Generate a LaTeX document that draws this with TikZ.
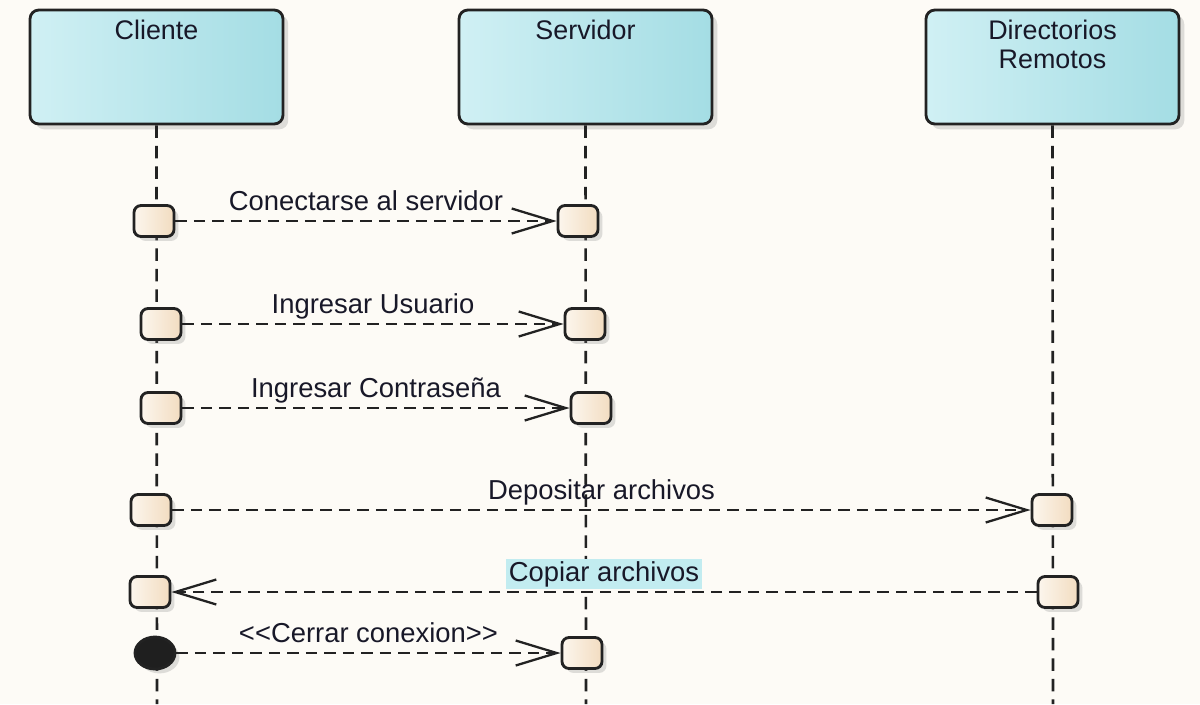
\documentclass[tikz,border=0pt]{standalone}
\usepackage{fontspec}
\setmainfont{Liberation Sans}
\usetikzlibrary{arrows.meta,shadows,shapes.geometric,positioning}
\definecolor{bgcream}{RGB}{253,251,246}
\definecolor{headleft}{RGB}{208,240,244}
\definecolor{headright}{RGB}{164,221,228}
\definecolor{actleft}{RGB}{252,246,237}
\definecolor{actright}{RGB}{242,220,192}
\definecolor{ink}{RGB}{34,34,34}
\definecolor{txt}{RGB}{24,24,40}
\definecolor{hilite}{RGB}{194,236,240}
\begin{document}
\begin{tikzpicture}[x=0.02cm, y=-0.02cm,
  font=\fontsize{15.3}{16.5}\selectfont, text=txt,
  head/.style={draw=ink, line width=1.6pt, rounded corners=5pt,
    left color=headleft, right color=headright,
    minimum width=5.06cm, minimum height=2.28cm,
    drop shadow={shadow xshift=3pt, shadow yshift=-3pt, opacity=.25}},
  title/.style={inner sep=0pt, align=center},
  act/.style={draw=ink, line width=1.6pt, rounded corners=4pt,
    left color=actleft, right color=actright, inner sep=0pt,
    minimum width=0.8cm, minimum height=0.62cm,
    drop shadow={shadow xshift=2.5pt, shadow yshift=-2.5pt, opacity=.25}},
  stop/.style={ellipse, draw=ink, line width=1.6pt, fill=black!88, inner sep=0pt,
    minimum width=0.8cm, minimum height=0.64cm,
    drop shadow={shadow xshift=2.5pt, shadow yshift=-2.5pt, opacity=.25}},
  lifeline/.style={draw=ink, line width=1.5pt, dash pattern=on 0.25cm off 0.16cm},
  msg/.style={draw=ink, line width=1.3pt, dash pattern=on 0.23cm off 0.14cm,
    -{Straight Barb[length=0.82cm, width=0.5cm]}},
  lbl/.style={anchor=base, yshift=0.22cm, inner sep=1.5pt,
    font=\fontsize{15.6}{17}\selectfont}]

  % background and page size
  \fill[bgcream] (0,0) rectangle (1200,704);
  \useasboundingbox (0,0) rectangle (1200,704);

  % lifeline heads
  \node[head] (cli) at (156.5,67) {};
  \node[head] (srv) at (585.5,67) {};
  \node[head] (dir) at (1052.5,67) {};
  \node[title, below=0.22cm of cli.north] {Cliente};
  \node[title, below=0.22cm of srv.north] {Servidor};
  \node[title, below=0.22cm of dir.north] {Directorios\\Remotos};

  % lifelines
  \coordinate (cliEnd) at (157,704);
  \coordinate (srvEnd) at (586,704);
  \coordinate (dirEnd) at (1053,704);
  \draw[lifeline] (cli.south) -- (cliEnd);
  \draw[lifeline] (srv.south) -- (srvEnd);
  \draw[lifeline] (dir.south) -- (dirEnd);

  % activations
  \node[act] (c1) at (154,221) {};
  \node[act] (s1) at (578,221) {};
  \node[act] (c2) at (161,324) {};
  \node[act] (s2) at (585,324) {};
  \node[act] (c3) at (161,408) {};
  \node[act] (s3) at (591,408) {};
  \node[act] (c4) at (151,510) {};
  \node[act] (d4) at (1052,510) {};
  \node[act] (c5) at (150,592) {};
  \node[act] (d5) at (1058,592) {};
  \node[stop] (c6) at (155,653) {};
  \node[act] (s6) at (582,653) {};

  % messages
  \draw[msg] (c1.east) -- (s1.west) node[midway, lbl] {Conectarse al servidor};
  \draw[msg] (c2.east) -- (s2.west) node[midway, lbl] {Ingresar Usuario};
  \draw[msg] (c3.east) -- (s3.west) node[midway, lbl] {Ingresar Contraseña};
  \draw[msg] (c4.east) -- (d4.west) node[midway, lbl] {Depositar archivos};
  \draw[msg] (d5.west) -- (c5.east) node[midway, lbl, fill=hilite] {Copiar archivos};
  \draw[msg] (c6.east) -- (s6.west) node[midway, lbl] {<{}<Cerrar conexion>{}>};
\end{tikzpicture}
\end{document}
